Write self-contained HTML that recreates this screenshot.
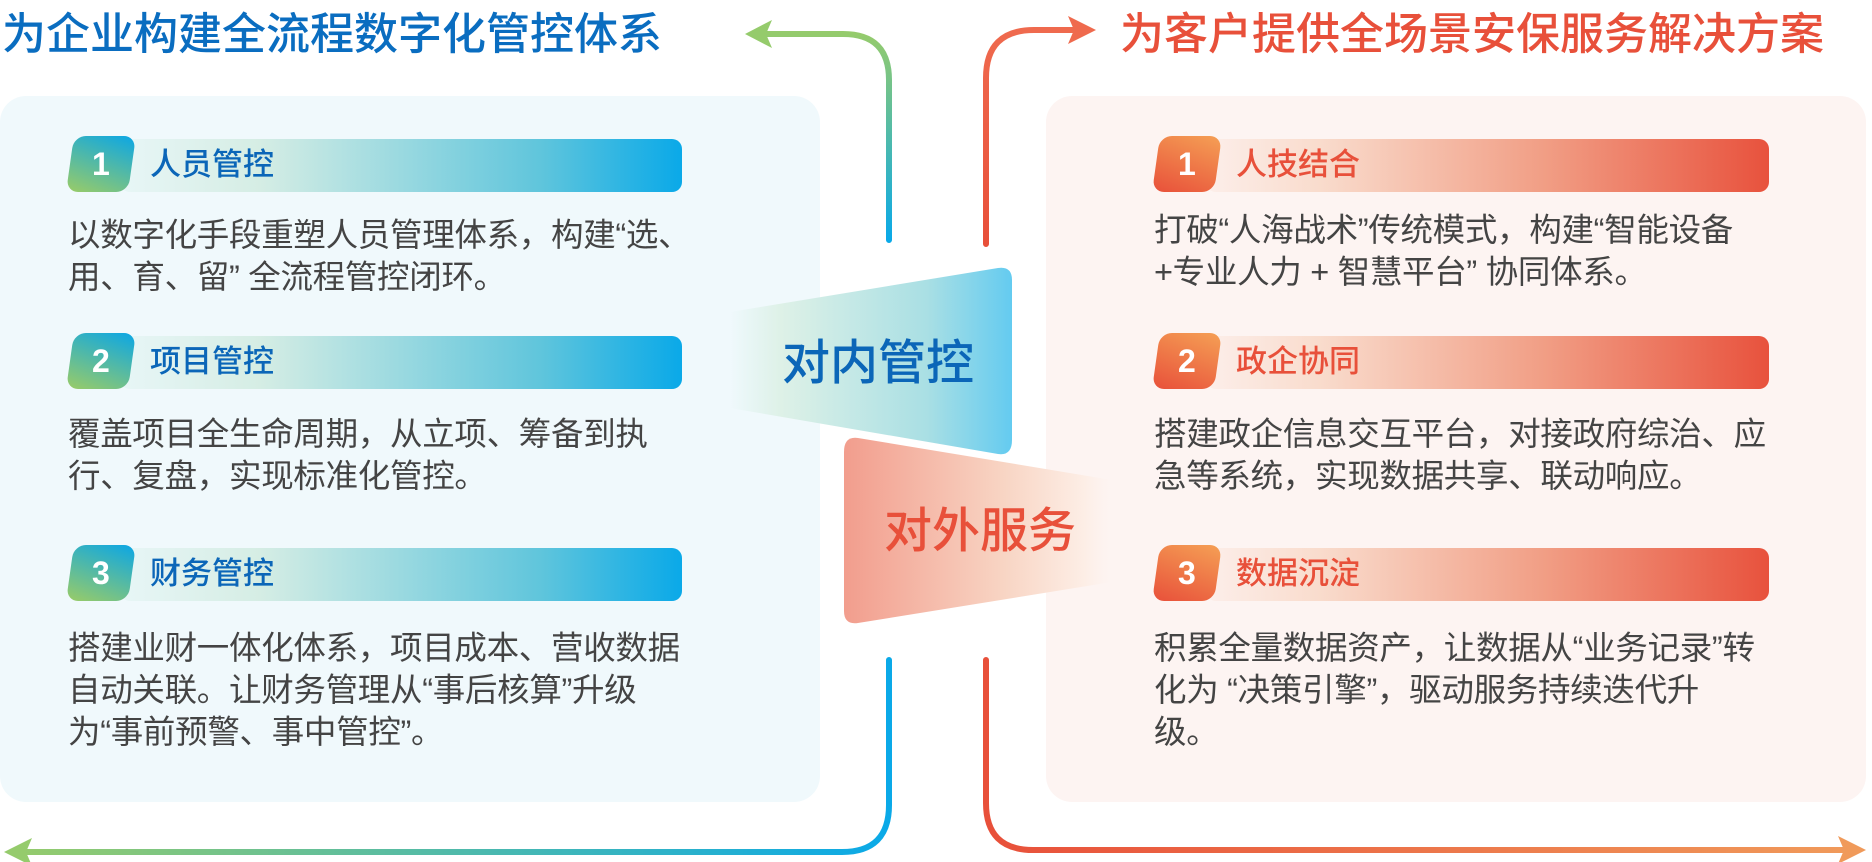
<!DOCTYPE html>
<html><head><meta charset="utf-8"><style>
*{margin:0;padding:0;box-sizing:border-box}
body{width:1872px;height:862px;background:#fff;position:relative;overflow:hidden;font-family:"Liberation Sans","Noto Sans CJK SC",sans-serif}
.abs{position:absolute}
.title{position:absolute;font-size:44px;font-weight:500;white-space:nowrap;line-height:1}
.panel{position:absolute;border-radius:26px}
.bar{position:absolute;height:53px;border-radius:10px}
.badge{position:absolute;width:62px;height:56px;border-radius:12px;transform:skewX(-8deg);color:#fff;font-size:32px;font-weight:bold;text-align:center;line-height:56px}
.badge span{display:inline-block;transform:skewX(8deg)}
.ht{position:absolute;font-size:31px;line-height:1;white-space:nowrap;font-weight:500}
.desc{position:absolute;font-size:32.5px;color:#444;line-height:42px;white-space:nowrap;letter-spacing:-0.3px}
.L .bar{background:linear-gradient(90deg,rgba(200,235,225,0.2),#d5ede4 25%,#5fc5dc 75%,#0aa9e8)}
.L .badge{background:linear-gradient(200deg,#0aa6e6,#9bcc66)}
.L .ht{color:#0b66b8}
.R .bar{background:linear-gradient(90deg,rgba(250,225,215,0.3),#f9dccd 20%,#f19e85 60%,#e8523d)}
.R .badge{background:linear-gradient(200deg,#f5a055,#e8503a)}
.R .ht{color:#e8503a}
</style></head><body>
<div class="title" style="left:2px;top:13px;color:#0a6dc0">为企业构建全流程数字化管控体系</div>
<div class="title" style="left:1120px;top:13px;color:#e8503a">为客户提供全场景安保服务解决方案</div>

<div class="panel" style="left:0;top:96px;width:820px;height:706px;background:#f0f9fc"></div>
<div class="panel" style="left:1046px;top:96px;width:820px;height:706px;background:#fdf4f2"></div>

<svg class="abs" style="left:0;top:0" width="1872" height="862">
<defs>
<linearGradient id="g1" x1="0" y1="0" x2="0" y2="1"><stop offset="0" stop-color="#95cb6c"/><stop offset="1" stop-color="#0aa9e8"/></linearGradient>
<linearGradient id="g2" x1="0" y1="0" x2="1" y2="0"><stop offset="0" stop-color="#95cb6c"/><stop offset="1" stop-color="#0aa9e8"/></linearGradient>
<linearGradient id="g3" x1="0" y1="0" x2="0" y2="1"><stop offset="0" stop-color="#ef6a4e"/><stop offset="1" stop-color="#e8503a"/></linearGradient>
<linearGradient id="g4" x1="0" y1="0" x2="1" y2="0"><stop offset="0" stop-color="#e8503a"/><stop offset="1" stop-color="#f09a5a"/></linearGradient>
<linearGradient id="gb" x1="0" y1="0" x2="1" y2="0"><stop offset="0" stop-color="#d9f0ea" stop-opacity="0"/><stop offset="0.18" stop-color="#def1e7"/><stop offset="0.7" stop-color="#a9dfe4"/><stop offset="1" stop-color="#64cbf0"/></linearGradient>
<linearGradient id="gr" x1="0" y1="0" x2="1" y2="0"><stop offset="0" stop-color="#f29d8d"/><stop offset="0.6" stop-color="#f8d5c4"/><stop offset="0.9" stop-color="#fdeee6"/><stop offset="1" stop-color="#fdf1ec" stop-opacity="0"/></linearGradient>
</defs>
<path d="M889 240 V80 Q889 34 843 34 H760" fill="none" stroke="url(#g1)" stroke-width="6" stroke-linecap="round"/>
<polygon points="745,34 772,20 766,34 772,48" fill="#95cb6c"/>
<path d="M889 660 V805 Q889 852 842 852 H20" fill="none" stroke="url(#g2)" stroke-width="6" stroke-linecap="round"/>
<polygon points="4,852 32,838 26,852 32,866" fill="#95cb6c"/>
<path d="M986 244 V78 Q986 30 1034 30 H1080" fill="none" stroke="url(#g3)" stroke-width="6" stroke-linecap="round"/>
<polygon points="1096,30 1068,16 1074,30 1068,44" fill="#ef6a4e"/>
<path d="M986 660 V803 Q986 850 1033 850 H1850" fill="none" stroke="url(#g4)" stroke-width="6" stroke-linecap="round"/>
<polygon points="1866,850 1838,836 1844,850 1838,864" fill="#f09a5a"/>
<path d="M730 312 L998 268 Q1012 266 1012 280 L1012 440 Q1012 456 998 454 L730 408 Z" fill="url(#gb)"/>
<path d="M858 438 L1112 480 L1112 582 L858 623 Q844 625 844 611 L844 452 Q844 436 858 438 Z" fill="url(#gr)"/>
</svg>
<div class="title" style="left:782px;top:340px;font-size:48px;color:#0b66b8">对内管控</div>
<div class="title" style="left:884px;top:508px;font-size:48px;color:#e8503a">对外服务</div>

<div class="L">
<div class="bar" style="left:120px;top:139px;width:562px"></div>
<div class="badge" style="left:70px;top:136px"><span>1</span></div>
<div class="ht" style="left:150px;top:149px">人员管控</div>
<div class="desc" style="left:68px;top:214px">以数字化手段重塑人员管理体系，构建“选、<br>用、育、留” 全流程管控闭环。</div>
<div class="bar" style="left:120px;top:336px;width:562px"></div>
<div class="badge" style="left:70px;top:333px"><span>2</span></div>
<div class="ht" style="left:150px;top:346px">项目管控</div>
<div class="desc" style="left:68px;top:413px">覆盖项目全生命周期，从立项、筹备到执<br>行、复盘，实现标准化管控。</div>
<div class="bar" style="left:120px;top:548px;width:562px"></div>
<div class="badge" style="left:70px;top:545px"><span>3</span></div>
<div class="ht" style="left:150px;top:558px">财务管控</div>
<div class="desc" style="left:68px;top:627px">搭建业财一体化体系，项目成本、营收数据<br>自动关联。让财务管理从“事后核算”升级<br>为“事前预警、事中管控”。</div>
</div>

<div class="R">
<div class="bar" style="left:1206px;top:139px;width:563px"></div>
<div class="badge" style="left:1156px;top:136px"><span>1</span></div>
<div class="ht" style="left:1236px;top:149px">人技结合</div>
<div class="desc" style="left:1154px;top:209px">打破“人海战术”传统模式，构建“智能设备<br>+专业人力 + 智慧平台” 协同体系。</div>
<div class="bar" style="left:1206px;top:336px;width:563px"></div>
<div class="badge" style="left:1156px;top:333px"><span>2</span></div>
<div class="ht" style="left:1236px;top:346px">政企协同</div>
<div class="desc" style="left:1154px;top:413px">搭建政企信息交互平台，对接政府综治、应<br>急等系统，实现数据共享、联动响应。</div>
<div class="bar" style="left:1206px;top:548px;width:563px"></div>
<div class="badge" style="left:1156px;top:545px"><span>3</span></div>
<div class="ht" style="left:1236px;top:558px">数据沉淀</div>
<div class="desc" style="left:1154px;top:627px">积累全量数据资产，让数据从“业务记录”转<br>化为 “决策引擎”，驱动服务持续迭代升<br>级。</div>
</div>
</body></html>
